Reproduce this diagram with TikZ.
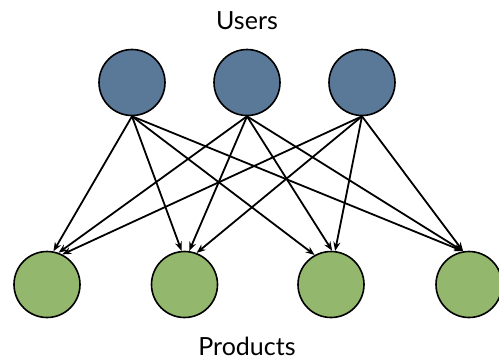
\documentclass[tikz,border=0pt]{standalone}
\usepackage{fontspec}
\setmainfont{Lato}
\usetikzlibrary{arrows.meta}
\definecolor{userblue}{HTML}{5A7898}
\definecolor{prodgreen}{HTML}{93B76C}
\begin{document}
\begin{tikzpicture}[x=1pt,y=-1pt,
  user/.style={circle,draw=black,line width=1.6pt,fill=userblue,minimum size=66pt,inner sep=0pt},
  product/.style={circle,draw=black,line width=1.6pt,fill=prodgreen,minimum size=66pt,inner sep=0pt},
  link/.style={line width=1.8pt,-{Stealth[length=9pt,width=7pt]}},
  label/.style={font=\fontsize{25}{28}\selectfont,inner sep=0pt}]
\useasboundingbox (0,0) rectangle (499,360);
% layers
\node[user] (u1) at (132,82.5) {};
\node[user] (u2) at (247,82.5) {};
\node[user] (u3) at (362,82.5) {};
\node[product] (p1) at (47,284.5) {};
\node[product] (p2) at (184.5,284.5) {};
\node[product] (p3) at (331,284.5) {};
\node[product] (p4) at (469,284.5) {};
\node[label,anchor=base] (tu) at (247,29) {Users};
\node[label,anchor=base] (tp) at (247,355) {Products};
% every user points to every product
\draw[link] (u1.south) -- (p1.79.5);
\draw[link] (u2.south) -- (p1.70.5);
\draw[link] (u3.south) -- (p1.63);
\draw[link] (u1.south) -- (p2.95);
\draw[link] (u2.south) -- (p2.82);
\draw[link] (u3.south) -- (p2.69.6);
\draw[link] (u1.south) -- (p3.119);
\draw[link] (u2.south) -- (p3.88);
\draw[link] (u3.south) -- (p3.83);
\draw[link] (u1.south) -- (p4.100.5);
\draw[link] (u2.south) -- (p4.100.5);
\draw[link] (u3.south) -- (p4.100.5);
\end{tikzpicture}
\end{document}
